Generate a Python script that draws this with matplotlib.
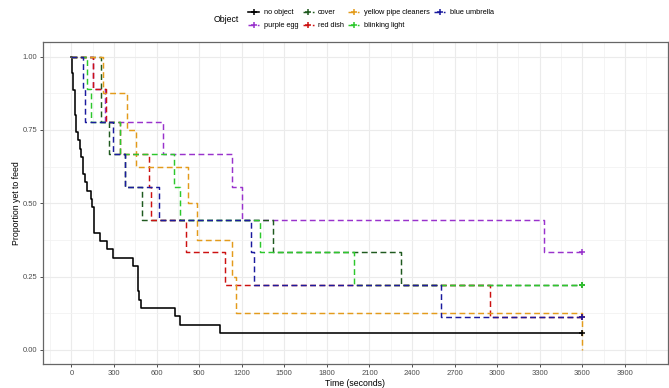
import numpy as np
import matplotlib
matplotlib.use("Agg")
import matplotlib.pyplot as plt
from matplotlib.lines import Line2D

plt.rcParams['font.family'] = ['Liberation Sans', 'DejaVu Sans']

# time to feed (s) per object, status 1 = fed, 0 = still not fed at end of trial
no_object_t = [6, 6, 13, 13, 23, 23, 23, 34, 34, 49, 58, 70, 81, 81, 93, 107, 140, 147,
               158, 158, 158, 201, 253, 295, 436, 468, 468, 468, 478, 487, 733, 764, 1050,
               3600, 3600]
no_object_s = [1, 1, 1, 1, 1, 1, 1, 1, 1, 1, 1, 1, 1, 1, 1, 1, 1, 1,
               1, 1, 1, 1, 1, 1, 1, 1, 1, 1, 1, 1, 1, 1, 1,
               0, 0]
purple_egg_t = [151, 235, 647, 1134, 1205, 3333, 3600, 3600, 3600]
purple_egg_s = [1, 1, 1, 1, 1, 1, 0, 0, 0]
cover_t = [210, 210, 264, 380, 494, 1421, 2319, 3600, 3600]
cover_s = [1, 1, 1, 1, 1, 1, 1, 0, 0]
red_dish_t = [150, 245, 341, 550, 562, 808, 1080, 2949, 3600]
red_dish_s = [1, 1, 1, 1, 1, 1, 1, 1, 0]
yellow_t = [224, 393, 457, 825, 887, 1134, 1158, 3600]
yellow_s = [1, 1, 1, 1, 1, 1, 1, 1]
blinking_t = [107, 140, 341, 721, 764, 1331, 1990, 3600, 3600]
blinking_s = [1, 1, 1, 1, 1, 1, 1, 0, 0]
umbrella_t = [84, 93, 290, 377, 617, 1265, 1283, 2602, 3600]
umbrella_s = [1, 1, 1, 1, 1, 1, 1, 1, 0]

labels = ["no object", "purple egg", "cover", "red dish",
          "yellow pipe cleaners", "blinking light", "blue umbrella"]
times = [no_object_t, purple_egg_t, cover_t, red_dish_t, yellow_t, blinking_t, umbrella_t]
status = [no_object_s, purple_egg_s, cover_s, red_dish_s, yellow_s, blinking_s, umbrella_s]
colors = ["#000000", "#9932CC", "#1F5A1F", "#CC1111", "#E39B1B", "#2DC82D", "#1A1A9E"]

DASH = (0, (4, 2.4))


def km_curve(t, s):
    """Kaplan-Meier step curve, returns step x/y and censor mark x/y"""
    t = np.asarray(t, float)
    s = np.asarray(s, int)
    xs, ys = [0.0], [1.0]
    cx, cy = [], []
    surv = 1.0
    for ti in np.unique(t):
        at_risk = np.sum(t >= ti)
        d = np.sum((t == ti) & (s == 1))
        if d:
            surv *= 1 - d / at_risk
        xs.append(ti)
        ys.append(surv)
        if np.any((t == ti) & (s == 0)):
            cx.append(ti)
            cy.append(surv)
    return np.array(xs), np.array(ys), cx, cy


fig = plt.figure(figsize=(6.69, 3.88), dpi=100)
ax = fig.add_axes([0.0643, 0.0606, 0.9335, 0.8312])

handles = []
for lab, t, s, c in zip(labels, times, status, colors):
    xs, ys, cx, cy = km_curve(t, s)
    ls = "-" if lab == "no object" else DASH
    lw = 1.15 if lab == "no object" else 1.05
    ax.step(xs, ys, where="post", color=c, lw=lw, linestyle=ls, zorder=3)
    if cx:
        ax.plot(cx, cy, linestyle="none", marker="+", color=c, ms=5, mew=1.1, zorder=4)
    handles.append(Line2D([], [], color=c, lw=lw, linestyle=ls, marker="+", ms=5, mew=1.1))

ax.set_xlim(-200, 4200)
ax.set_ylim(-0.05, 1.05)
ax.set_xticks(np.arange(0, 4000, 300))
ax.set_xticks(np.arange(-150, 4200, 300), minor=True)
ax.set_yticks([0, 0.25, 0.5, 0.75, 1.0])
ax.set_yticks([0.125, 0.375, 0.625, 0.875], minor=True)
ax.set_yticklabels(["0.00", "0.25", "0.50", "0.75", "1.00"])
ax.grid(which="major", color="#EBEBEB", lw=0.8, zorder=0)
ax.grid(which="minor", color="#F2F2F2", lw=0.6, zorder=0)
ax.set_axisbelow(True)
ax.tick_params(which="major", length=2.5, width=0.6, color="#333333",
               labelsize=5.5, labelcolor="#4D4D4D", pad=1.5)
ax.tick_params(which="minor", length=0)
for sp in ax.spines.values():
    sp.set_color("#666666")
    sp.set_linewidth(0.9)

ax.set_xlabel("Time (seconds)", fontsize=6.3, labelpad=1.5)
ax.set_ylabel("Proportion yet to feed", fontsize=6.3, labelpad=1)

fig.text(214 / 669, 1 - 19 / 388, "Object", fontsize=6.3, va="center", ha="left")
fig.legend(handles=handles, labels=labels, ncol=4, loc="upper left",
           bbox_to_anchor=(243 / 669, 1 - 4 / 388), frameon=False, fontsize=5.3,
           handlelength=1.5, handletextpad=0.6, columnspacing=0.6,
           labelspacing=0.8, borderpad=0.2)

fig.savefig("out.png", dpi=100, facecolor="white")
